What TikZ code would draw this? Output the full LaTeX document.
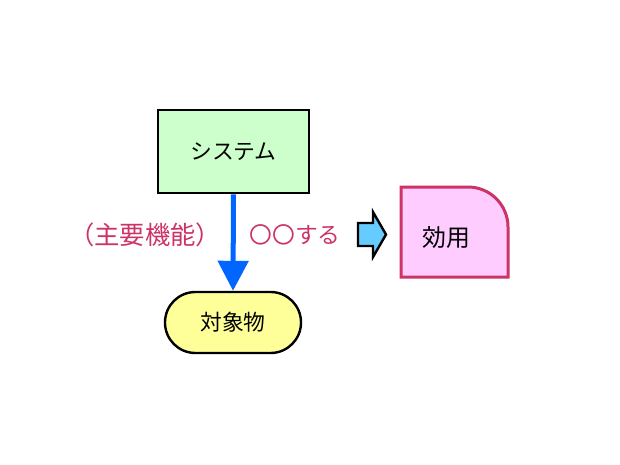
\documentclass[tikz,border=0pt]{standalone}
\usepackage{fontspec}
\setmainfont{Noto Sans CJK JP}
\usepackage{xcolor}
\usetikzlibrary{calc, arrows.meta}

\definecolor{boxgreen}{HTML}{CCFFCC}
\definecolor{boxyellow}{HTML}{FFFF99}
\definecolor{boxpink}{HTML}{FFCCFF}
\definecolor{rosered}{HTML}{CC3366}
\definecolor{arrowblue}{HTML}{0066FF}
\definecolor{skyblue}{HTML}{66CCFF}

\tikzset{
	every node/.style = {font = \fontsize{15.5}{18}\selectfont},
	systembox/.style = {draw, line width = 0.7mm, fill = boxgreen, minimum width = 37.75mm, minimum height = 20.75mm, inner sep = 0},
	objectbox/.style = {draw, line width = 0.6mm, fill = boxyellow, rounded corners = 7.6mm, minimum width = 34mm, minimum height = 15.25mm, inner sep = 0},
	labeltext/.style = {text = rosered}
}

\begin{document}
\begin{tikzpicture}[x = 0.25mm, y = -0.25mm]
		\useasboundingbox (0,0) rectangle (620,465);
		
		\def\r{40};
		
		\node [systembox] (system) at (233.5,151.5) {システム};
		\node [objectbox] (object) at (233,322.5) {対象物};
		
		%main function
		\draw [arrowblue, line width = 1.25mm, -{Triangle[width = 7.5mm, length = 7.5mm]}] (system.south) -- (object.north);
		
		\node [labeltext, font = \fontsize{18}{20}\selectfont] (function) at (145,235) {（主要機能）};
		\node [labeltext, font = \fontsize{16.2}{19}\selectfont] (action) at (295,235) {〇〇する};
		
		%utility
		\coordinate (utility nw) at (401,187);
		\coordinate (utility se) at (508,277);
		\fill [boxpink] (utility nw |- utility se) -- (utility nw) -- ($ (utility se |- utility nw) + (-\r,0) $) arc [start angle = -90, end angle = 0, radius = \r] -- (utility se) -- cycle;
		\draw [rosered, line width = 0.75mm] (utility nw |- utility se) -- (utility nw) -- ($ (utility se |- utility nw) + (-\r,0) $) arc [start angle = -90, end angle = 0, radius = \r] -- (utility se) -- cycle;
		\node [font = \fontsize{17}{20}\selectfont] (utility) at (446,237) {効用};
		
		\draw [fill = skyblue, line width = 0.6mm, line join = miter] (358,223) -- (373,223) -- (373,212) -- (386,234.5) -- (373,257) -- (373,246) -- (358,246) -- cycle;
	\end{tikzpicture}
\end{document}
